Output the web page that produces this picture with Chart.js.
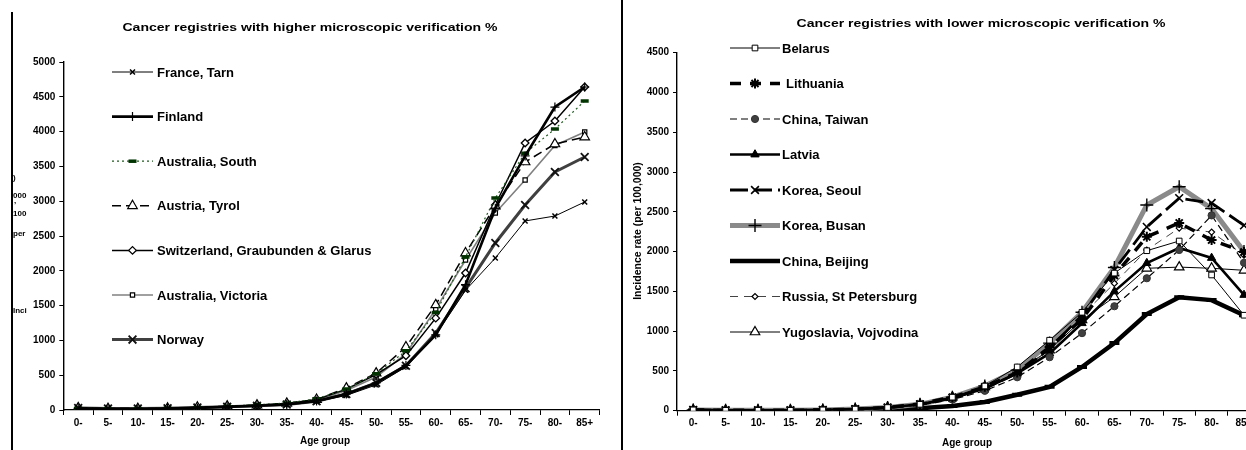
<!DOCTYPE html>
<html><head><meta charset="utf-8">
<script src="https://cdn.jsdelivr.net/npm/chart.js@4.4.1/dist/chart.umd.min.js"></script>
<style>
html,body{margin:0;padding:0;background:#fff;width:1246px;height:450px;overflow:hidden;position:relative}
#c1{position:absolute;left:0;top:0}
#c2wrap{position:absolute;left:630px;top:0;width:616px;height:450px;overflow:hidden}
#c2{position:absolute;left:0;top:0}
.vline{position:absolute;background:#000;width:2px}
</style></head><body>
<div class="vline" style="left:11px;top:12px;height:438px"></div>
<div class="vline" style="left:621px;top:0;height:450px"></div>
<canvas id="c1" width="622" height="450" style="width:622px;height:450px"></canvas>
<div id="c2wrap"><canvas id="c2" width="640" height="450" style="width:640px;height:450px"></canvas></div>
<script>
// ---------- DATA ----------
const ageGroups = ['0-','5-','10-','15-','20-','25-','30-','35-','40-','45-','50-','55-','60-','65-','70-','75-','80-','85+'];

// Left chart: higher microscopic verification
const franceTarn   = [30,20,20,25,35,45,60,80,120,210,360,620,1080,1720,2184,2716,2787,2989];
const finland      = [20,15,15,20,30,45,60,80,130,230,390,640,1080,1800,2900,3650,4353,4641];
const australiaSouth = [25,20,20,25,35,55,75,100,160,300,520,850,1400,2200,3046,3690,4037,4440];
const austriaTyrol = [30,20,20,25,40,55,70,95,150,315,530,905,1510,2255,2930,3563,3822,3922];
const switzerland  = [30,20,20,25,35,50,70,95,150,300,510,780,1320,1968,2945,3836,4152,4641];
const australiaVictoria = [25,15,20,25,35,50,65,85,140,280,475,810,1450,2155,2830,3305,3800,3994];
const norway       = [30,20,20,25,35,45,60,80,125,230,390,635,1106,1750,2400,2945,3420,3635];

// Right chart: lower microscopic verification
const belarus    = [10,5,5,5,10,20,40,80,170,310,550,886,1237,1730,2011,2133,1706,1200];
const lithuania  = [10,5,5,5,10,20,40,85,170,300,480,800,1150,1700,2185,2360,2145,1995];
const chinaTaiwan= [10,5,5,5,10,20,40,70,140,250,420,672,975,1313,1665,2020,2455,1860];
const latvia     = [10,5,5,5,10,20,40,80,160,280,470,720,1100,1500,1855,2045,1920,1455];
const koreaSeoul = [10,5,5,5,10,20,40,80,160,280,470,780,1200,1770,2310,2672,2610,2330];
const koreaBusan = [10,5,5,5,10,20,40,80,170,310,510,850,1237,1800,2586,2815,2540,2000];
const chinaBeijing=[5,5,5,5,5,10,20,30,60,110,200,300,550,850,1215,1425,1390,1200];
const russiaStP  = [10,5,5,5,10,20,50,90,180,320,480,760,1200,1600,2020,2295,2245,1955];
const yugoslavia = [10,5,5,5,10,20,40,80,170,300,500,760,1140,1430,1790,1805,1790,1765];

const leftTicks = {min:0, max:5000, step:500};
const rightTicks = {min:0, max:4500, step:500};

// ---------- HELPERS ----------
const FONT = "Arial, 'Liberation Sans', sans-serif";
function ds(label, data, o){
  return Object.assign({
    label, data, tension:0, fill:false,
    borderColor:'#000', borderWidth:1, borderDash:[],
    pointStyle:'circle', pointRadius:3, pointHoverRadius:3,
    pointBackgroundColor:'#fff', pointBorderColor:'#000', pointBorderWidth:1
  }, o);
}

const legendPlugin = {
  id:'customLegend',
  afterDatasetsDraw(chart, args, opts){
    const ctx = chart.ctx;
    chart.data.datasets.forEach((d,i)=>{
      const y = opts.y0 + i*opts.dy;
      ctx.save();
      ctx.strokeStyle = d.borderColor; ctx.lineWidth = d.borderWidth;
      ctx.setLineDash(d.borderDash||[]);
      ctx.beginPath(); ctx.moveTo(opts.x0,y); ctx.lineTo(opts.x1,y); ctx.stroke();
      ctx.setLineDash([]);
      ctx.fillStyle = d.pointBackgroundColor; ctx.strokeStyle = d.pointBorderColor; ctx.lineWidth = d.pointBorderWidth;
      Chart.helpers.drawPoint(ctx,{pointStyle:d.pointStyle,radius:d.pointRadius,rotation:0,borderWidth:d.pointBorderWidth},(opts.x0+opts.x1)/2,y);
      ctx.fillStyle='#000'; ctx.font=opts.font; ctx.textAlign='left'; ctx.textBaseline='middle';
      ctx.fillText(d.label, opts.tx + (d.legendShift||0), y+1);
      ctx.restore();
    });
  }
};

const textPlugin = {
  id:'texts',
  afterDraw(chart, args, opts){
    const ctx = chart.ctx;
    for (const t of opts.items){
      ctx.save();
      if (t.clip){ ctx.beginPath(); ctx.rect(t.clip[0],t.clip[1],t.clip[2],t.clip[3]); ctx.clip(); }
      ctx.font = t.font; ctx.fillStyle='#000';
      ctx.textAlign = t.align||'center'; ctx.textBaseline='middle';
      ctx.translate(t.x,t.y);
      if (t.rot) ctx.rotate(t.rot);
      if (t.sx) ctx.scale(t.sx,1);
      ctx.fillText(t.text,0,0);
      ctx.restore();
    }
  }
};

function makeOptions(cfg){
  return {
    responsive:false, animation:false,
    layout:{padding:{left:0, top:cfg.top, right:cfg.right, bottom:0}},
    plugins:{
      legend:{display:false}, tooltip:{enabled:false}, title:{display:false},
      customLegend:cfg.legend,
      texts:{items:cfg.texts}
    },
    scales:{
      x:{
        type:'category', offset:true,
        afterFit(s){ s.height = cfg.xh; },
        grid:{display:true, offset:true, drawOnChartArea:false, drawTicks:true, tickLength:5, color:'#000', lineWidth:1},
        border:{display:true, color:'#000', width:1.2},
        ticks:{color:'#000', font:{family:FONT, size:10, weight:'bold'}, padding:2, maxRotation:0, autoSkip:false}
      },
      y:{
        min:cfg.ticks.min, max:cfg.ticks.max,
        afterFit(s){ s.width = cfg.yw; },
        grid:{display:true, drawOnChartArea:false, drawTicks:true, tickLength:4, color:'#000', lineWidth:1},
        border:{display:true, color:'#000', width:1.4},
        ticks:{stepSize:cfg.ticks.step, color:'#000', font:{family:FONT, size:10, weight:'bold'}, padding:4,
               callback:(v)=>String(v)}
      }
    }
  };
}

// ---------- LEFT CHART ----------
const leftDatasets = [
  ds('France, Tarn', franceTarn, {borderWidth:1, pointStyle:'crossRot', pointRadius:3.5, pointBorderWidth:1.5}),
  ds('Finland', finland, {borderWidth:2.6, pointStyle:'cross', pointRadius:4.5, pointBorderWidth:1.2}),
  ds('Australia, South', australiaSouth, {borderColor:'#1f5a1f', borderWidth:1.2, borderDash:[2,3], pointStyle:'line', pointRadius:4, pointBorderColor:'#003300', pointBorderWidth:3.5}),
  ds('Austria, Tyrol', austriaTyrol, {borderWidth:1.5, borderDash:[9,5], pointStyle:'triangle', pointRadius:5.5, pointBorderWidth:1.2}),
  ds('Switzerland, Graubunden & Glarus', switzerland, {borderWidth:1.5, pointStyle:'rectRot', pointRadius:3.8, pointBorderWidth:1.3}),
  ds('Australia, Victoria', australiaVictoria, {borderColor:'#808080', borderWidth:1.6, pointStyle:'rect', pointRadius:3, pointBorderWidth:1.2}),
  ds('Norway', norway, {borderColor:'#404040', borderWidth:3, pointStyle:'crossRot', pointRadius:5.5, pointBorderColor:'#111', pointBorderWidth:1.8})
];

new Chart(document.getElementById('c1'), {
  type:'line',
  data:{labels:ageGroups, datasets:leftDatasets},
  options:makeOptions({
    top:62, right:22.4, xh:40, yw:63.3, ticks:leftTicks,
    legend:{x0:112, x1:153, tx:157, y0:72, dy:44.6, font:"bold 13px "+FONT},
    texts:[
      {text:'Cancer registries with higher microscopic verification %', x:310, y:28, font:"bold 11.5px "+FONT, sx:1.22},
      {text:'Age group', x:325, y:441, font:"bold 10px "+FONT},
      {text:')', x:13, y:178, font:"bold 8px "+FONT, align:'left'},
      {text:'000', x:13, y:196, font:"bold 8px "+FONT, align:'left'},
      {text:',', x:14, y:201, font:"bold 8px "+FONT, align:'left'},
      {text:'100', x:13, y:214, font:"bold 8px "+FONT, align:'left'},
      {text:'per', x:13, y:234, font:"bold 8px "+FONT, align:'left'},
      {text:'Inci', x:13, y:311, font:"bold 8px "+FONT, align:'left', clip:[12,307,30,10]}
    ]
  }),
  plugins:[legendPlugin, textPlugin]
});

// ---------- RIGHT CHART ----------
const rightDatasets = [
  ds('Belarus', belarus, {borderWidth:1, pointStyle:'rect', pointRadius:4, pointBorderWidth:1}),
  ds('Lithuania', lithuania, {borderWidth:3.5, borderDash:[11,9], pointStyle:'star', pointRadius:5, pointBorderWidth:2, legendShift:4}),
  ds('China, Taiwan', chinaTaiwan, {borderWidth:1.2, borderDash:[7,4], pointStyle:'circle', pointRadius:3.6, pointBackgroundColor:'#404040', pointBorderColor:'#333', pointBorderWidth:1}),
  ds('Latvia', latvia, {borderWidth:2.6, pointStyle:'triangle', pointRadius:4.8, pointBackgroundColor:'#000', pointBorderWidth:1}),
  ds('Korea, Seoul', koreaSeoul, {borderWidth:2.8, borderDash:[18,6], pointStyle:'crossRot', pointRadius:5.5, pointBorderWidth:1.6}),
  ds('Korea, Busan', koreaBusan, {borderColor:'#8a8a8a', borderWidth:5, pointStyle:'cross', pointRadius:6.5, pointBorderWidth:1.4}),
  ds('China, Beijing', chinaBeijing, {borderWidth:4.5, pointStyle:'line', pointRadius:5, pointBorderWidth:4}),
  ds('Russia, St Petersburg', russiaStP, {borderColor:'#444', borderWidth:1, borderDash:[8,6], pointStyle:'rectRot', pointRadius:3, pointBorderWidth:1.2}),
  ds('Yugoslavia, Vojvodina', yugoslavia, {borderWidth:1, pointStyle:'triangle', pointRadius:5.5, pointBorderWidth:1.2})
];

new Chart(document.getElementById('c2'), {
  type:'line',
  data:{labels:ageGroups, datasets:rightDatasets},
  options:makeOptions({
    top:52.7, right:9.8, xh:39.3, yw:47, ticks:rightTicks,
    legend:{x0:100, x1:150, tx:152, y0:48, dy:35.5, font:"bold 13px "+FONT},
    texts:[
      {text:'Cancer registries with lower microscopic verification %', x:351, y:24, font:"bold 11.5px "+FONT, sx:1.22},
      {text:'Age group', x:337, y:443, font:"bold 10px "+FONT},
      {text:'Incidence rate (per 100,000)', x:8, y:231, font:"bold 10.5px "+FONT, rot:-Math.PI/2}
    ]
  }),
  plugins:[legendPlugin, textPlugin]
});
</script>
</body></html>
